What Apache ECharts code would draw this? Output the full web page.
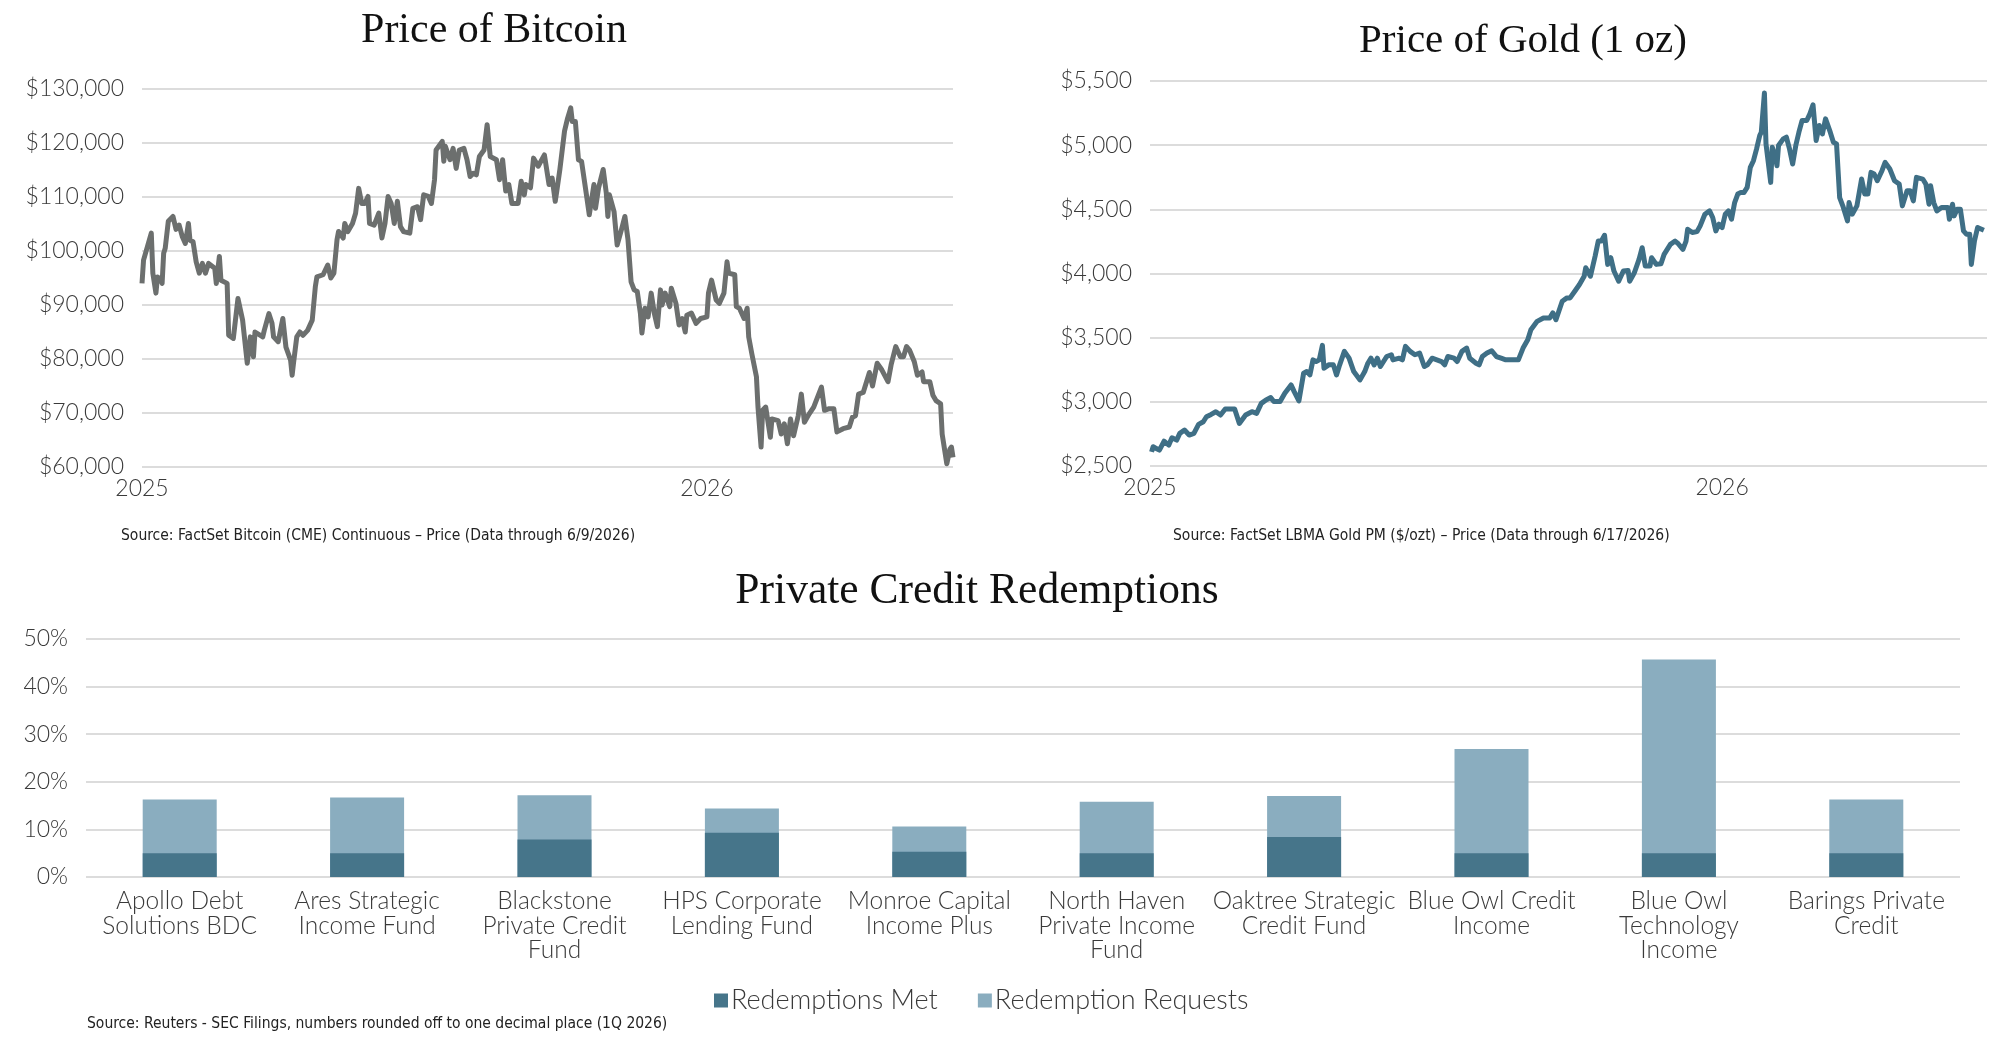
<!DOCTYPE html>
<html>
<head>
<meta charset="utf-8">
<script src="https://cdn.jsdelivr.net/npm/echarts@6/dist/echarts.min.js"></script>
<style>
  html, body { margin: 0; padding: 0; background: #fff; }
  #main { width: 2000px; height: 1041px; }
</style>
</head>
<body>
<div id="main"></div>
<script>
// Bitcoin (CME continuous)
var btcDates = [
  '2025-01-01','2025-01-02','2025-01-07','2025-01-08','2025-01-10','2025-01-11','2025-01-13','2025-01-14','2025-01-15','2025-01-16',
  '2025-01-18','2025-01-19','2025-01-21','2025-01-23','2025-01-25','2025-01-27','2025-01-29','2025-01-31','2025-02-01','2025-02-03',
  '2025-02-05','2025-02-07','2025-02-09','2025-02-11','2025-02-13','2025-02-17','2025-02-18','2025-02-20','2025-02-21','2025-02-25',
  '2025-02-26','2025-03-01','2025-03-04','2025-03-07','2025-03-10','2025-03-12','2025-03-14','2025-03-15','2025-03-20','2025-03-21',
  '2025-03-24','2025-03-26','2025-03-27','2025-03-30','2025-04-02','2025-04-04','2025-04-07','2025-04-08','2025-04-09','2025-04-11',
  '2025-04-13','2025-04-15','2025-04-18','2025-04-21','2025-04-23','2025-04-24','2025-04-28','2025-05-01','2025-05-03','2025-05-05',
  '2025-05-07','2025-05-08','2025-05-11','2025-05-12','2025-05-14','2025-05-17','2025-05-19','2025-05-21','2025-05-23','2025-05-25',
  '2025-05-27','2025-05-28','2025-05-31','2025-06-03','2025-06-05','2025-06-07','2025-06-09','2025-06-11','2025-06-13','2025-06-15',
  '2025-06-17','2025-06-19','2025-06-23','2025-06-25','2025-06-28','2025-06-30','2025-07-02','2025-07-05','2025-07-07','2025-07-09',
  '2025-07-10','2025-07-14','2025-07-15','2025-07-16','2025-07-19','2025-07-21','2025-07-23','2025-07-25','2025-07-28','2025-07-30',
  '2025-08-01','2025-08-03','2025-08-05','2025-08-07','2025-08-10','2025-08-12','2025-08-14','2025-08-18','2025-08-20','2025-08-22',
  '2025-08-24','2025-08-26','2025-08-28','2025-09-01','2025-09-03','2025-09-05','2025-09-06','2025-09-09','2025-09-11','2025-09-14',
  '2025-09-18','2025-09-21','2025-09-23','2025-09-25','2025-09-26','2025-09-28','2025-10-01','2025-10-03','2025-10-05','2025-10-06',
  '2025-10-08','2025-10-10','2025-10-12','2025-10-15','2025-10-17','2025-10-20','2025-10-21','2025-10-23','2025-10-26','2025-10-28',
  '2025-10-29','2025-10-30','2025-11-02','2025-11-04','2025-11-05','2025-11-07','2025-11-09','2025-11-11','2025-11-13','2025-11-15',
  '2025-11-17','2025-11-19','2025-11-20','2025-11-22','2025-11-24','2025-11-26','2025-11-28','2025-11-30','2025-12-02','2025-12-03',
  '2025-12-05','2025-12-08','2025-12-09','2025-12-12','2025-12-14','2025-12-16','2025-12-18','2025-12-19','2025-12-22','2025-12-25',
  '2025-12-28','2026-01-01','2026-01-02','2026-01-04','2026-01-07','2026-01-09','2026-01-12','2026-01-14','2026-01-15','2026-01-19',
  '2026-01-20','2026-01-22','2026-01-25','2026-01-27','2026-01-28','2026-01-30','2026-02-02','2026-02-03','2026-02-05','2026-02-06',
  '2026-02-08','2026-02-11','2026-02-12','2026-02-16','2026-02-18','2026-02-20','2026-02-22','2026-02-24','2026-02-26','2026-03-01',
  '2026-03-03','2026-03-05','2026-03-08','2026-03-11','2026-03-16','2026-03-18','2026-03-21','2026-03-24','2026-03-26','2026-03-30',
  '2026-04-03','2026-04-05','2026-04-07','2026-04-09','2026-04-12','2026-04-16','2026-04-18','2026-04-21','2026-04-24','2026-04-28',
  '2026-04-30','2026-05-03','2026-05-06','2026-05-08','2026-05-10','2026-05-12','2026-05-15','2026-05-17','2026-05-20','2026-05-21',
  '2026-05-25','2026-05-27','2026-05-29','2026-06-01','2026-06-02','2026-06-05','2026-06-07','2026-06-08','2026-06-09'
];
var btcPrices = [
  94000,98300,103300,95900,92200,95200,94700,94000,99600,100500,
  105500,105500,106400,104000,104800,102700,101400,105100,102000,101700,
  98000,95900,97700,95900,97700,96800,94000,99000,94600,94000,
  84400,83800,91200,87200,79200,84100,80400,85000,84100,85300,
  88400,86600,84100,83200,87500,82200,79800,77000,79500,84100,
  85000,84400,85300,87200,93400,95200,95600,97400,95000,95900,
  102100,103600,102400,105100,103600,105100,107000,111600,108800,108800,
  110100,105100,104800,107000,102400,105100,110100,108800,105100,109200,
  104500,103600,103300,107900,108200,105800,110400,110100,108800,113200,
  118700,120300,116600,119400,116900,119000,115300,118700,119000,116900,
  113800,114400,114100,117500,118700,123400,117500,116900,113200,116900,
  111100,112300,108800,108800,112900,110400,112300,111700,117200,115700,
  117800,112300,113500,109200,111100,115100,122200,124600,126500,124000,
  124000,116900,116600,110700,106700,112300,107900,111700,115100,110700,
  106400,110400,107300,101100,102100,104200,106400,102100,94300,92800,
  92500,88500,84800,89400,87800,92200,88500,86000,92800,90000,
  92200,89700,93100,90300,86300,87500,85000,88100,88500,86600,
  87500,87800,92200,94600,90900,90300,92200,98000,95900,95600,
  89700,89400,87500,89400,84100,81000,76700,71100,63700,70500,
  71100,65500,68900,68600,66100,68000,64300,68900,65800,69500,
  73500,68300,69800,71100,74800,70500,70800,70800,66500,67100,
  67400,69200,69500,73500,73800,77500,75000,79200,78000,75800,
  78900,82300,80400,80400,82300,81600,79500,77000,77600,75800,
  75800,73300,72300,71700,66100,60600,63300,63700,61800
];

// Gold, LBMA PM ($/ozt)
var goldDates = [
  '2025-01-02','2025-01-03','2025-01-05','2025-01-07','2025-01-10','2025-01-13','2025-01-15','2025-01-18','2025-01-20','2025-01-23',
  '2025-01-26','2025-01-29','2025-02-01','2025-02-04','2025-02-06','2025-02-09','2025-02-12','2025-02-15','2025-02-18','2025-02-24',
  '2025-02-27','2025-03-03','2025-03-07','2025-03-10','2025-03-13','2025-03-16','2025-03-19','2025-03-21','2025-03-25','2025-03-28',
  '2025-04-01','2025-04-03','2025-04-06','2025-04-09','2025-04-11','2025-04-13','2025-04-15','2025-04-17','2025-04-19','2025-04-21',
  '2025-04-22','2025-04-25','2025-04-28','2025-04-30','2025-05-02','2025-05-05','2025-05-08','2025-05-11','2025-05-15','2025-05-18',
  '2025-05-20','2025-05-22','2025-05-24','2025-05-26','2025-05-28','2025-06-01','2025-06-04','2025-06-05','2025-06-09','2025-06-11',
  '2025-06-13','2025-06-16','2025-06-19','2025-06-22','2025-06-25','2025-06-27','2025-06-30','2025-07-03','2025-07-06','2025-07-08',
  '2025-07-10','2025-07-14','2025-07-16','2025-07-19','2025-07-22','2025-07-24','2025-07-28','2025-07-30','2025-08-01','2025-08-04',
  '2025-08-07','2025-08-10','2025-08-13','2025-08-16','2025-08-21','2025-08-24','2025-08-27','2025-08-30','2025-09-01','2025-09-05',
  '2025-09-09','2025-09-13','2025-09-15','2025-09-17','2025-09-21','2025-09-24','2025-09-26','2025-09-29','2025-10-02','2025-10-05',
  '2025-10-06','2025-10-09','2025-10-12','2025-10-14','2025-10-16','2025-10-18','2025-10-20','2025-10-22','2025-10-24','2025-10-27',
  '2025-10-30','2025-11-02','2025-11-03','2025-11-06','2025-11-09','2025-11-11','2025-11-13','2025-11-16','2025-11-17','2025-11-20',
  '2025-11-23','2025-11-25','2025-11-29','2025-12-02','2025-12-04','2025-12-07','2025-12-09','2025-12-10','2025-12-13','2025-12-16',
  '2025-12-18','2025-12-21','2025-12-24','2025-12-26','2025-12-28','2025-12-30','2026-01-01','2026-01-03','2026-01-05','2026-01-07',
  '2026-01-09','2026-01-11','2026-01-13','2026-01-15','2026-01-17','2026-01-19','2026-01-21','2026-01-23','2026-01-25','2026-01-26',
  '2026-01-28','2026-01-29','2026-02-01','2026-02-02','2026-02-04','2026-02-05','2026-02-06','2026-02-09','2026-02-11','2026-02-13',
  '2026-02-15','2026-02-17','2026-02-19','2026-02-21','2026-02-24','2026-02-26','2026-02-28','2026-03-02','2026-03-04','2026-03-06',
  '2026-03-08','2026-03-11','2026-03-13','2026-03-15','2026-03-17','2026-03-19','2026-03-22','2026-03-23','2026-03-25','2026-03-28',
  '2026-03-31','2026-04-02','2026-04-04','2026-04-06','2026-04-08','2026-04-10','2026-04-13','2026-04-15','2026-04-18','2026-04-21',
  '2026-04-24','2026-04-26','2026-04-29','2026-05-01','2026-05-03','2026-05-05','2026-05-09','2026-05-11','2026-05-13','2026-05-14',
  '2026-05-16','2026-05-18','2026-05-21','2026-05-25','2026-05-26','2026-05-28','2026-05-29','2026-05-31','2026-06-02','2026-06-04',
  '2026-06-06','2026-06-08','2026-06-09','2026-06-11','2026-06-13','2026-06-17'
];
var goldPrices = [
  2610,2650,2637,2624,2694,2663,2720,2702,2754,2780,
  2741,2754,2824,2845,2884,2902,2923,2897,2944,2944,
  2832,2897,2923,2910,2988,3015,3033,3002,3002,3067,
  3132,3080,3007,3223,3236,3210,3327,3314,3327,3440,
  3262,3288,3288,3210,3288,3393,3340,3236,3171,3236,
  3301,3340,3288,3340,3275,3353,3367,3327,3340,3327,
  3432,3393,3367,3380,3275,3288,3340,3327,3314,3288,
  3353,3340,3314,3393,3419,3340,3301,3288,3353,3380,
  3398,3353,3340,3327,3327,3327,3419,3484,3562,3627,
  3653,3653,3693,3640,3784,3810,3810,3862,3914,3979,
  4045,3979,4136,4253,4253,4298,4071,4123,4019,3940,
  4019,4024,3940,4006,4110,4201,4058,4058,4123,4071,
  4076,4149,4227,4253,4232,4188,4253,4345,4319,4326,
  4371,4462,4488,4436,4332,4384,4358,4462,4488,4423,
  4553,4619,4632,4632,4671,4827,4879,4971,5075,5101,
  5406,5010,4710,4984,4906,4840,4997,5049,5062,4971,
  4853,4997,5101,5192,5192,5244,5315,5036,5153,5088,
  5205,5101,5023,5010,4592,4527,4410,4553,4462,4527,
  4736,4619,4619,4788,4775,4723,4801,4866,4814,4723,
  4697,4527,4645,4645,4566,4749,4736,4697,4540,4684,
  4553,4488,4514,4514,4423,4540,4449,4501,4501,4332,
  4305,4305,4071,4253,4358,4337
];

// Private credit redemptions, 1Q 2026 (% of shares)
var funds = [
  'Apollo Debt\nSolutions BDC', 'Ares Strategic\nIncome Fund', 'Blackstone\nPrivate Credit\nFund',
  'HPS Corporate\nLending Fund', 'Monroe Capital\nIncome Plus', 'North Haven\nPrivate Income\nFund',
  'Oaktree Strategic\nCredit Fund', 'Blue Owl Credit\nIncome', 'Blue Owl\nTechnology\nIncome',
  'Barings Private\nCredit'
];
var redemptionRequests = [16.3, 16.7, 17.2, 14.4, 10.6, 15.8, 17.0, 26.9, 45.7, 16.3];
var redemptionsMet = [5.0, 5.0, 7.9, 9.3, 5.3, 5.0, 8.4, 5.0, 5.0, 5.0];

var yearTicks = ['2025', '2026'];
var btcTicks = [60000, 130000, 10000];
var goldTicks = [2500, 5500, 500];
var pctTicks = [0, 50, 10];

function ts(d) { return Date.parse(d + 'T00:00:00Z'); }
function pairs(dates, vals) {
  return dates.map(function (d, i) { return [ts(d), vals[i]]; });
}
var YEAR = 365 * 24 * 3600 * 1000;

var labelFont = 'Lato, "Open Sans", sans-serif';
var labelColor = '#3a3a3a';
var gridColor = '#dcdcdc';
var noteFont = '15.5px "Liberation Sans Narrow", "DejaVu Sans Condensed", sans-serif';

function yearLabel(v) {
  var d = new Date(v);
  if (d.getUTCMonth() === 0 && d.getUTCDate() === 1) {
    var y = String(d.getUTCFullYear());
    return yearTicks.indexOf(y) >= 0 ? y : '';
  }
  return '';
}
function dollar(v) { return '$' + v.toLocaleString('en-US'); }

var timeAxis = function (gridIndex, maxDate) {
  return {
    type: 'value', gridIndex: gridIndex,
    min: ts(yearTicks[0] + '-01-01'), max: ts(maxDate), interval: YEAR,
    axisLine: { show: false }, axisTick: { show: false }, splitLine: { show: false },
    axisLabel: { formatter: yearLabel, showMaxLabel: false, margin: 10,
      fontFamily: labelFont, fontWeight: 300, fontSize: 23, color: labelColor }
  };
};
var valAxis = function (gridIndex, t, fmt) {
  return {
    type: 'value', gridIndex: gridIndex, min: t[0], max: t[1], interval: t[2],
    axisLine: { show: false }, axisTick: { show: false },
    splitLine: { lineStyle: { color: gridColor, width: 2 } },
    axisLabel: { formatter: fmt, margin: 18, fontFamily: labelFont, fontWeight: 300, fontSize: 23, color: labelColor }
  };
};

var chart = echarts.init(document.getElementById('main'));

chart.setOption({
  backgroundColor: '#ffffff',
  animation: false,
  grid: [
    { left: 142, right: 1047, top: 89, bottom: 574 },
    { left: 1150, right: 13, top: 81, bottom: 575 },
    { left: 86, right: 40, top: 639, bottom: 164 }
  ],
  xAxis: [
    timeAxis(0, '2026-06-09'),
    timeAxis(1, '2026-06-19'),
    {
      type: 'category', gridIndex: 2, data: funds,
      axisLine: { show: false }, axisTick: { show: false },
      axisLabel: { interval: 0, margin: 12, lineHeight: 24.5, fontFamily: labelFont, fontWeight: 300, fontSize: 24.5, color: labelColor }
    }
  ],
  yAxis: [
    valAxis(0, btcTicks, dollar),
    valAxis(1, goldTicks, dollar),
    valAxis(2, pctTicks, '{value}%')
  ],
  legend: {
    data: ['Redemptions Met', 'Redemption Requests'],
    left: 709, top: 982, icon: 'rect', itemWidth: 14, itemHeight: 14, itemGap: 40,
    textStyle: { fontFamily: labelFont, fontWeight: 300, fontSize: 27, color: labelColor, padding: [0, 0, 0, -2] }
  },
  graphic: [
    { type: 'text', x: 494, y: 31, style: { text: 'Price of Bitcoin', textAlign: 'center', textVerticalAlign: 'middle',
      font: '42px "Liberation Serif", serif', fill: '#111' } },
    { type: 'text', x: 1523, y: 41, style: { text: 'Price of Gold (1 oz)', textAlign: 'center', textVerticalAlign: 'middle',
      font: '41px "Liberation Serif", serif', fill: '#111' } },
    { type: 'text', x: 977, y: 592, style: { text: 'Private Credit Redemptions', textAlign: 'center', textVerticalAlign: 'middle',
      font: '43.5px "Liberation Serif", serif', fill: '#111' } },
    { type: 'text', x: 121, y: 536, style: { text: 'Source: FactSet Bitcoin (CME) Continuous \u2013 Price (Data through 6/9/2026)',
      textVerticalAlign: 'middle', font: noteFont, fill: '#222' } },
    { type: 'text', x: 1173, y: 536, style: { text: 'Source: FactSet LBMA Gold PM ($/ozt) \u2013 Price (Data through 6/17/2026)',
      textVerticalAlign: 'middle', font: noteFont, fill: '#222' } },
    { type: 'text', x: 87, y: 1024, style: { text: 'Source: Reuters - SEC Filings, numbers rounded off to one decimal place (1Q 2026)',
      textVerticalAlign: 'middle', font: noteFont, fill: '#222' } }
  ],
  series: [
    {
      name: 'Bitcoin', type: 'line', xAxisIndex: 0, yAxisIndex: 0,
      data: pairs(btcDates, btcPrices), showSymbol: false,
      lineStyle: { color: '#6c6f6e', width: 5, join: 'round' }
    },
    {
      name: 'Gold', type: 'line', xAxisIndex: 1, yAxisIndex: 1,
      data: pairs(goldDates, goldPrices), showSymbol: false,
      lineStyle: { color: '#3f6f86', width: 5, join: 'round' }
    },
    {
      name: 'Redemption Requests', type: 'bar', xAxisIndex: 2, yAxisIndex: 2,
      data: redemptionRequests, barWidth: 74, barGap: '-100%',
      itemStyle: { color: '#8aadbf' }
    },
    {
      name: 'Redemptions Met', type: 'bar', xAxisIndex: 2, yAxisIndex: 2,
      data: redemptionsMet, barWidth: 74, barGap: '-100%',
      itemStyle: { color: '#46758a' }
    }
  ]
});
</script>
</body>
</html>
